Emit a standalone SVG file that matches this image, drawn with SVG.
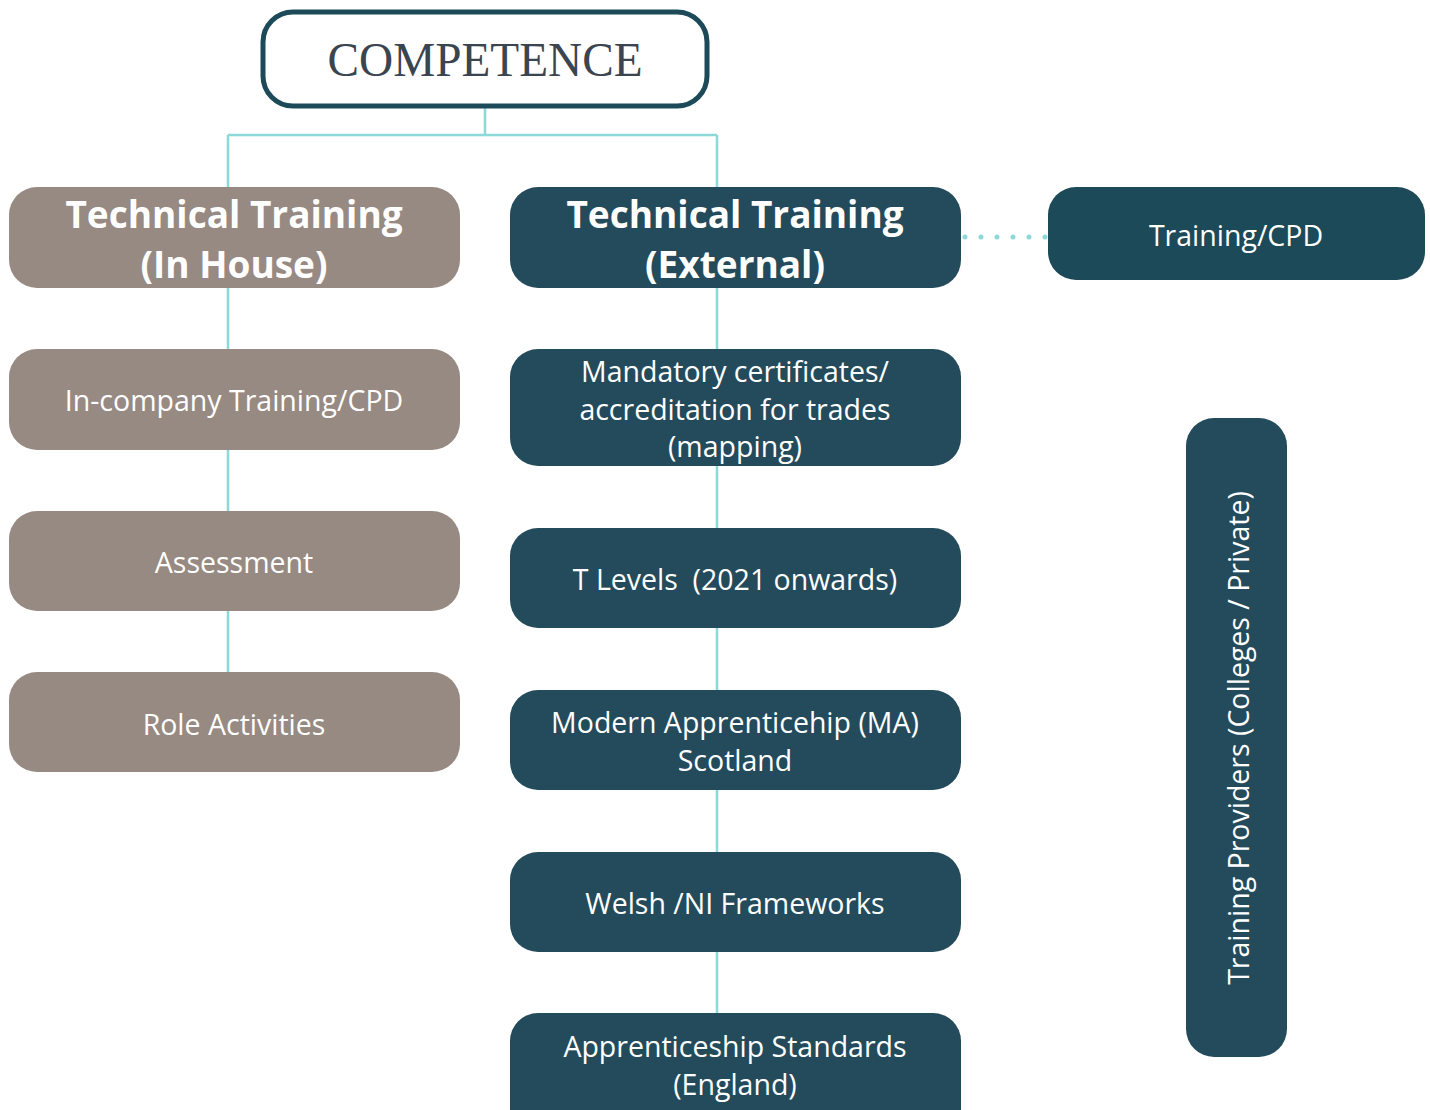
<svg xmlns="http://www.w3.org/2000/svg" width="1430" height="1110" viewBox="0 0 1430 1110">
<style>
.brown{fill:#978a82}
.teal{fill:#244b5b}
.t{font-family:"Open Sans","Noto Sans",sans-serif;fill:#ffffff;text-anchor:middle;font-size:28.5px}
.h{font-family:"Open Sans","Noto Sans",sans-serif;fill:#ffffff;text-anchor:middle;font-size:37px;font-weight:bold}
.c{stroke:#8dd8d8;stroke-width:2.5;fill:none}
</style>
<rect width="1430" height="1110" fill="#ffffff"/>
<g id="connectors">
<path class="c" d="M485 107V135M228 135H717M228 135V672M717 135V1013"/>
<path d="M965 237H1046" stroke="#8dd8d8" stroke-width="5" stroke-linecap="round" stroke-dasharray="0 16" fill="none"/>
</g>
<g id="competence">
<rect x="263" y="12" width="444" height="94" rx="30" fill="#ffffff" stroke="#1d4a58" stroke-width="5"/>
<text x="485" y="76" font-family="'Liberation Serif',serif" font-size="48" fill="#3a4550" text-anchor="middle" textLength="315" lengthAdjust="spacingAndGlyphs">COMPETENCE</text>
</g>
<g id="inhouse">
<rect class="brown" x="9" y="187" width="451" height="101" rx="28"/>
<text class="h" x="234" y="228">Technical Training</text>
<text class="h" x="234" y="278">(In House)</text>
</g>
<g id="incompany">
<rect class="brown" x="9" y="349" width="451" height="101" rx="28"/>
<text class="t" x="234" y="411">In-company Training/CPD</text>
</g>
<g id="assessment">
<rect class="brown" x="9" y="511" width="451" height="100" rx="28"/>
<text class="t" x="234" y="573">Assessment</text>
</g>
<g id="role">
<rect class="brown" x="9" y="672" width="451" height="100" rx="28"/>
<text class="t" x="234" y="735">Role Activities</text>
</g>
<g id="external">
<rect class="teal" x="510" y="187" width="451" height="101" rx="28"/>
<text class="h" x="735" y="228">Technical Training</text>
<text class="h" x="735" y="278">(External)</text>
</g>
<g id="mandatory">
<rect class="teal" x="510" y="349" width="451" height="117" rx="28"/>
<text class="t" x="735" y="382">Mandatory certificates/</text>
<text class="t" x="735" y="420">accreditation for trades</text>
<text class="t" x="735" y="457">(mapping)</text>
</g>
<g id="tlevels">
<rect class="teal" x="510" y="528" width="451" height="100" rx="28"/>
<text class="t" x="735" y="590" xml:space="preserve">T Levels  (2021 onwards)</text>
</g>
<g id="modern">
<rect class="teal" x="510" y="690" width="451" height="100" rx="28"/>
<text class="t" x="735" y="733">Modern Apprenticehip (MA)</text>
<text class="t" x="735" y="771">Scotland</text>
</g>
<g id="welsh">
<rect class="teal" x="510" y="852" width="451" height="100" rx="28"/>
<text class="t" x="735" y="914">Welsh /NI Frameworks</text>
</g>
<g id="standards">
<rect class="teal" x="510" y="1013" width="451" height="130" rx="28"/>
<text class="t" x="735" y="1057">Apprenticeship Standards</text>
<text class="t" x="735" y="1095">(England)</text>
</g>
<g id="trainingcpd">
<rect x="1048" y="187" width="377" height="93" rx="28" fill="#1d4a58"/>
<text class="t" x="1236" y="246">Training/CPD</text>
</g>
<g id="providers">
<rect class="teal" x="1186" y="418" width="101" height="639" rx="28"/>
<text class="t" transform="translate(1249 738) rotate(-90)">Training Providers (Colleges / Private)</text>
</g>
</svg>
